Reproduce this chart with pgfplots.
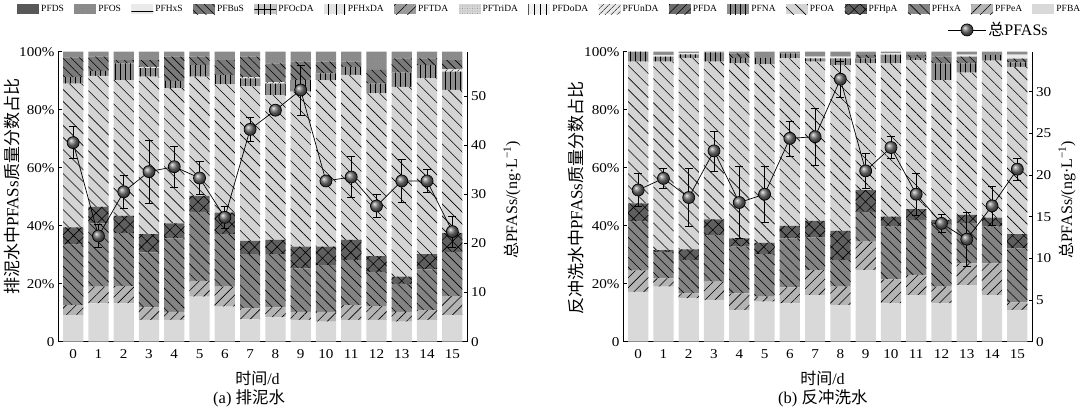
\documentclass[border=0pt]{standalone}
\usepackage{pgfplots}
\pgfplotsset{compat=1.18}
\usepackage{pgfplotstable}
\usetikzlibrary{patterns.meta}
\usepackage{fontspec}
\setmainfont{Liberation Serif}
\newfontfamily\tickfont[FakeStretch=1.12]{Liberation Serif}
\newfontfamily\cjk{Noto Sans CJK SC}

\definecolor{cBA}{HTML}{D9D9D9}
\definecolor{cPeA}{HTML}{B4B4B4}
\definecolor{cHxA}{HTML}{848484}
\definecolor{cHpA}{HTML}{5F5F5F}
\definecolor{cOA}{HTML}{D4D4D4}
\definecolor{cNA}{HTML}{8E8E8E}
\definecolor{cDA}{HTML}{6B6B6B}
\definecolor{cUnDA}{HTML}{E8E8E8}
\definecolor{cDoDA}{HTML}{F0F0F0}
\definecolor{cTriDA}{HTML}{D6D6D6}
\definecolor{cTDA}{HTML}{9A9A9A}
\definecolor{cHxDA}{HTML}{E2E2E2}
\definecolor{cOcDA}{HTML}{C4C4C4}
\definecolor{cBuS}{HTML}{7A7A7A}
\definecolor{cHxS}{HTML}{EAEAEA}
\definecolor{cOS}{HTML}{8C8C8C}
\definecolor{cDS}{HTML}{585858}

\pgfplotsset{
 sBA/.style={fill=cBA,draw=none},
 sPeA/.style={fill=cPeA,draw=none,postaction={pattern={Lines[angle=45,distance=7pt,line width=0.6pt]},pattern color=black}},
 sHxA/.style={fill=cHxA,draw=none,postaction={pattern={Lines[angle=-45,distance=7pt,line width=0.6pt]},pattern color=black}},
 sHpA/.style={fill=cHpA,draw=none,postaction={pattern={Hatch[angle=45,distance=8pt,line width=0.6pt]},pattern color=black}},
 sOA/.style={fill=cOA,draw=none,postaction={pattern={Lines[angle=-45,distance=8.5pt,line width=0.6pt]},pattern color=black}},
 sNA/.style={fill=cNA,draw=none,postaction={pattern={Lines[angle=90,distance=5pt,line width=0.6pt]},pattern color=black}},
 sDA/.style={fill=cDA,draw=none,postaction={pattern={Lines[angle=45,distance=6pt,line width=0.6pt]},pattern color=black}},
 sUnDA/.style={fill=cUnDA,draw=none,postaction={pattern={Lines[angle=45,distance=4pt,line width=0.5pt]},pattern color=black}},
 sDoDA/.style={fill=cDoDA,draw=none,postaction={pattern={Lines[angle=90,distance=6pt,line width=0.5pt]},pattern color=black}},
 sTriDA/.style={fill=cTriDA,draw=none,postaction={pattern={Dots[distance=2.5pt,radius=0.35pt]},pattern color=gray}},
 sTDA/.style={fill=cTDA,draw=none,postaction={pattern={Lines[angle=45,distance=8pt,line width=0.6pt]},pattern color=black}},
 sHxDA/.style={fill=cHxDA,draw=none,postaction={pattern={Lines[angle=90,distance=8pt,line width=0.5pt]},pattern color=black}},
 sOcDA/.style={fill=cOcDA,draw=none,postaction={pattern={Hatch[angle=0,distance=6pt,line width=0.6pt]},pattern color=black}},
 sBuS/.style={fill=cBuS,draw=none,postaction={pattern={Lines[angle=-45,distance=6pt,line width=0.6pt]},pattern color=black}},
 sHxS/.style={fill=cHxS,draw=none,postaction={pattern={Lines[angle=0,distance=10pt,line width=0.6pt]},pattern color=black}},
 sOS/.style={fill=cOS,draw=none,postaction={pattern={Dots[distance=2.5pt,radius=0.4pt]},pattern color=gray}},
 sDS/.style={fill=cDS,draw=none},
}

% composition (%), panel a
\pgfplotstableread{
x BA PeA HxA HpA OA NA DA UnDA DoDA TriDA TDA HxDA OcDA BuS HxS OS DS
0 9.2 3.4 20.9 5.9 49.6 2.2 0 0 0 0 0 0 0 6.8 0 2.0 0
1 13.2 5.8 21.8 5.7 45.2 1.6 0 0 0 0 0 0 0 5.0 0 1.7 0
2 13.2 6.0 18.2 6.0 46.8 5.8 0 0 0 0 0 0 0 1.1 0 2.9 0
3 7.5 4.3 19.0 6.3 54.3 2.9 0 0.5 0 0 0 0 0 2.3 0 2.9 0
4 7.5 2.8 25.3 5.2 46.6 2.5 0 0 0 0 0 0 0 8.4 0 1.7 0
5 15.5 5.5 23.8 5.5 41.1 4.0 0 0 0 0 0 0 0 2.9 0 1.7 0
6 12.1 6.9 18.1 7.4 44.2 3.3 0 0 0 0 0 0 0 5.1 0 2.9 0
7 7.7 3.8 18.7 4.6 53.2 2.8 0 0.4 0 0 0 0 0 7.1 0 1.7 0
8 8.4 3.4 18.4 4.9 49.9 4.0 0 0.5 0 0 0 0 0 6.5 0 4.0 0
9 7.5 2.8 15.0 7.5 53.4 4.0 0 0 0 0 0 0 0 6.4 0 3.4 0
10 6.9 3.4 16.1 6.4 57.4 2.3 0 0 0 0 0 0 0 4.1 0 3.4 0
11 7.5 5.1 15.6 6.9 56.9 2.8 0 0 0 0 0 0 0 1.8 0 3.4 0
12 7.5 4.8 11.8 5.4 56.1 3.4 0 0 0 0 0 0 0 4.7 0 6.3 0
13 6.9 3.4 9.6 2.5 65.5 4.9 0 0 0 0 0 0 0 4.9 0 2.3 0
14 7.5 3.4 14.0 5.3 60.6 4.6 0 0 0 0 0 0 0 2.3 0 2.3 0
15 9.2 6.5 15.3 6.4 49.4 6.3 0 0.8 0 0 0 0 0 3.2 0 2.9 0
}\compA

% composition (%), panel b
\pgfplotstableread{
x BA PeA HxA HpA OA NA DA UnDA DoDA TriDA TDA HxDA OcDA BuS HxS OS DS
0 17.2 7.3 16.9 6.3 48.9 3.4 0 0 0 0 0 0 0 0 0 0 0
1 19.0 2.8 9.2 0.6 65.0 1.7 0 0 0 0 0 0 0 0 0.6 1.1 0
2 14.9 1.8 11.5 3.6 66.1 1.2 0 0 0 0 0 0 0 0 0.4 0.5 0
3 14.4 6.3 16.1 5.4 54.4 3.2 0 0 0 0 0 0 0 0 0 0.2 0
4 10.9 5.8 16.1 2.8 60.4 1.9 0 0 0 0 0 0 0 1.5 0 0.6 0
5 13.8 1.7 14.7 3.9 61.5 2.3 0 0 0 0 0 0 0 0 0 2.1 0
6 13.2 5.5 16.9 4.3 57.8 1.7 0 0 0 0 0 0 0 0 0 0.6 0
7 16.1 8.6 11.3 5.7 54.9 1.1 0 0 0 0 0 0 0 0 0.6 1.7 0
8 12.6 6.4 9.2 10.0 57.2 2.3 0 0 0 0 0 0 0 0 0.6 1.7 0
9 24.7 9.8 10.3 7.5 43.7 1.7 0 0 0 0 0 0 0 1.2 0 1.1 0
10 13.2 8.3 18.2 3.4 52.9 3.0 0 0 0 0 0 0 0 0 0.4 0.6 0
11 16.1 6.9 19.0 3.7 51.4 0.8 0 0 0 0 0 0 0 1.0 0 1.1 0
12 13.2 5.8 21.6 1.4 48.2 5.8 0 0 0 0 0 0 0 2.3 0 1.7 0
13 19.5 7.5 14.0 2.7 49.1 3.2 0 0 0 0 0 0 0 2.3 0.7 1.0 0
14 16.1 10.9 12.7 3.1 54.1 2.0 0 0 0 0 0 0 0 0 0 1.1 0
15 10.9 2.7 18.6 4.9 57.7 1.5 0 0 0 0 0 0 0 1.3 1.4 1.0 0
}\compB

\pgfplotstableread{
x y e
0 40.5 3.3
1 21.5 2.4
2 30.5 3.4
3 34.6 6.4
4 35.6 4.2
5 33.3 3.4
6 25.3 2.3
7 43.2 2.5
8 47.1 0.8
9 51.2 5.1
10 32.7 0.6
11 33.5 4.2
12 27.6 2.3
13 32.7 4.4
14 32.7 2.3
15 22.4 3.2
}\totA

\pgfplotstableread{
x y e
0 18.2 2.0
1 19.6 1.2
2 17.3 3.5
3 22.9 2.4
4 16.7 4.3
5 17.7 3.4
6 24.4 2.1
7 24.6 3.4
8 31.5 2.2
9 20.5 2.1
10 23.3 1.3
11 17.7 2.5
12 14.2 1.1
13 12.3 3.2
14 16.3 2.3
15 20.7 1.3
}\totB

\newcommand{\stackbars}[1]{%
 \addplot[sBA] table[x=x,y=BA]{#1};
 \addplot[sPeA] table[x=x,y=PeA]{#1};
 \addplot[sHxA] table[x=x,y=HxA]{#1};
 \addplot[sHpA] table[x=x,y=HpA]{#1};
 \addplot[sOA] table[x=x,y=OA]{#1};
 \addplot[sNA] table[x=x,y=NA]{#1};
 \addplot[sDA] table[x=x,y=DA]{#1};
 \addplot[sUnDA] table[x=x,y=UnDA]{#1};
 \addplot[sDoDA] table[x=x,y=DoDA]{#1};
 \addplot[sTriDA] table[x=x,y=TriDA]{#1};
 \addplot[sTDA] table[x=x,y=TDA]{#1};
 \addplot[sHxDA] table[x=x,y=HxDA]{#1};
 \addplot[sOcDA] table[x=x,y=OcDA]{#1};
 \addplot[sBuS] table[x=x,y=BuS]{#1};
 \addplot[sHxS] table[x=x,y=HxS]{#1};
 \addplot[sOS] table[x=x,y=OS]{#1};
 \addplot[sDS] table[x=x,y=DS]{#1};
}

\pgfplotsset{
 baraxis/.style={
  scale only axis, width=409.5pt, height=290pt,
  anchor=south west,
  ybar stacked, bar width=0.8,
  xmin=-0.6, xmax=15.6, ymin=0, ymax=100,
  axis x line*=bottom, axis y line*=left,
  xtick={0,...,15}, xtick style={draw=none},
  xticklabel style={yshift=-4pt},
  ytick={0,20,40,60,80,100},
  yticklabels={0,20\%,40\%,60\%,80\%,100\%},
  tick align=inside, major tick length=4pt,
  tick label style={font=\tickfont\fontsize{13.5}{14}\selectfont},
  /pgf/number format/assume math mode=true,
  axis line style={line width=0.8pt}, tick style={line width=0.8pt, black},
 },
 lineaxis/.style={
  scale only axis, width=409.5pt, height=290pt,
  anchor=south west,
  xmin=-0.6, xmax=15.6, ymin=0,
  axis x line=none, axis y line*=right,
  tick align=inside, major tick length=4pt,
  tick label style={font=\tickfont\fontsize{13.5}{14}\selectfont},
  /pgf/number format/assume math mode=true,
  axis line style={line width=0.8pt}, tick style={line width=0.8pt, black},
 },
 totline/.style={black, line width=0.7pt, mark=ball, mark size=6pt,
  mark options={ball color=black!55},
  error bars/.cd, y dir=both, y explicit,
  error bar style={line width=0.7pt, black},
  error mark options={line width=0.7pt, black, mark size=4pt, rotate=90}},
}

\begin{document}
\begin{tikzpicture}[x=1pt,y=1pt]
\useasboundingbox (0,0) rectangle (1080,411);

% ---- panel a ----
\begin{axis}[baraxis, at={(58pt,69.3pt)},
  legend image code/.code={\path[#1] (0pt,-5pt) rectangle (22pt,5pt);},
  reverse legend,
  legend entries={PFBA,PFPeA,PFHxA,PFHpA,PFOA,PFNA,PFDA,PFUnDA,PFDoDA,PFTriDA,PFTDA,PFHxDA,PFOcDA,PFBuS,PFHxS,PFOS,PFDS},
  legend style={at={(-0.1,1.168)}, anchor=north west, draw=none, fill=none,
    legend columns=17, font=\fontsize{9.5}{10}\selectfont, inner sep=0pt,
    /tikz/every odd column/.append style={column sep=0pt},
    /tikz/every even column/.append style={column sep=8.3pt}},
  legend cell align=left]
\stackbars{\compA}
\end{axis}
\begin{axis}[lineaxis, at={(58pt,69.3pt)}, ymax=59, ytick={0,10,...,50}]
\addplot[totline] table[x=x,y=y,y error=e]{\totA};
\end{axis}

% ---- panel b ----
\begin{axis}[baraxis, at={(623pt,69.3pt)}]
\stackbars{\compB}
\end{axis}
\begin{axis}[lineaxis, at={(623pt,69.3pt)}, ymax=34.8, ytick={0,5,...,30},
  legend image code/.code={\draw[#1, mark repeat=2, mark phase=2] plot coordinates {(0pt,0pt) (19pt,0pt) (38pt,0pt)};},
  legend style={at={(0.785,1.075)}, anchor=west, draw=none, fill=none,
   font=\fontsize{16}{17}\selectfont}]
\addplot[totline] table[x=x,y=y,y error=e]{\totB};
\addlegendentry{{\cjk 总}PFASs}
\end{axis}

% ---- labels ----
\node[rotate=90, font=\fontsize{17}{18}\selectfont] at (12,224) {{\cjk 排泥水中}PFASs{\cjk 质量分数占比}};
\node[rotate=90, font=\fontsize{16}{17}\selectfont] at (512,211) {{\cjk 总}PFASs/(ng·L\textsuperscript{−1})};
\node[rotate=90, font=\fontsize{17}{18}\selectfont] at (576,213) {{\cjk 反冲洗水中}PFASs{\cjk 质量分数占比}};
\node[rotate=90, font=\fontsize{16}{17}\selectfont] at (1067,211) {{\cjk 总}PFASs/(ng·L\textsuperscript{−1})};
\node[font=\fontsize{16}{17}\selectfont] at (257.5,33) {{\cjk 时间}/d};
\node[font=\fontsize{16}{17}\selectfont] at (822.5,33) {{\cjk 时间}/d};
\node[anchor=west, inner sep=0pt, font=\fontsize{16.5}{18}\selectfont] at (213,13) {(a) {\cjk 排泥水}};
\node[anchor=west, inner sep=0pt, font=\fontsize{16.5}{18}\selectfont] at (778,13) {(b) {\cjk 反冲洗水}};
\end{tikzpicture}
\end{document}
